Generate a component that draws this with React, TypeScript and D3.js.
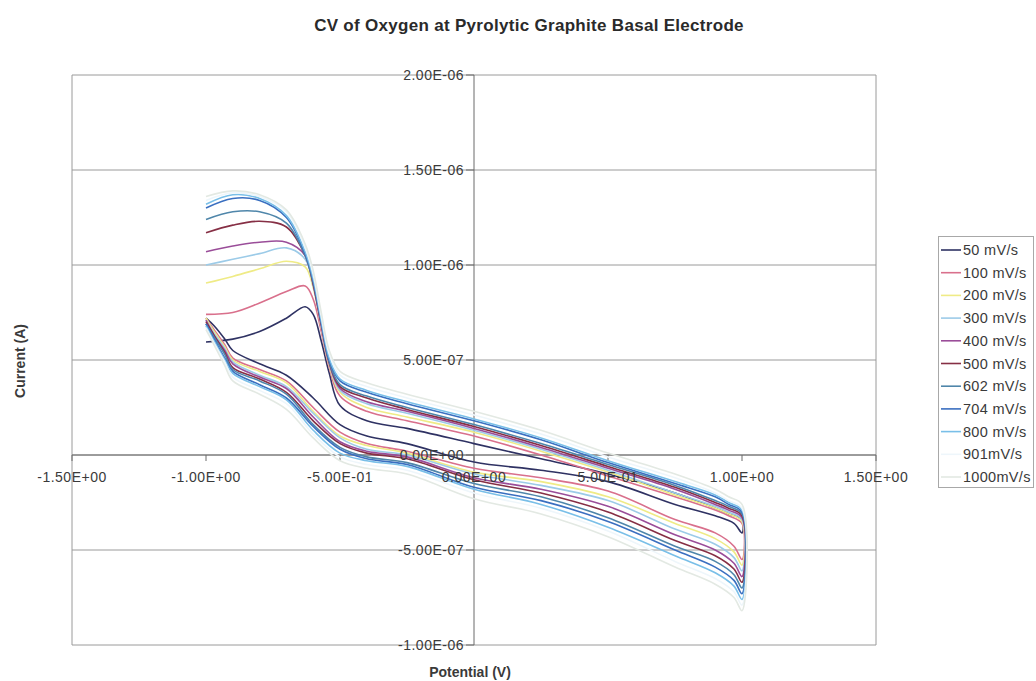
import React from "react";
import * as d3 from "d3";

const WIDTH = 1036;
const HEIGHT = 681;
const FONT = "'Liberation Sans', Arial, Helvetica, sans-serif";

// Current values below are in units of 1e-7 A
const UNIT = 1e-7;

const scanRateLabels = [
  "50 mV/s", "100 mV/s", "200 mV/s", "300 mV/s", "400 mV/s", "500 mV/s",
  "602 mV/s", "704 mV/s", "800 mV/s", "901mV/s", "1000mV/s",
];

const seriesColors = [
  "#2f3263", "#d9708c", "#efeb86", "#9ccbe8", "#9a4d99", "#862f45",
  "#4f86aa", "#3a6fc0", "#79bfe8", "#eef6fb", "#e3e9e3",
];

// Forward sweep from -1.0 V up to +1.0 V
const anodicPotential = [-1.0, -0.97, -0.93, -0.9, -0.8, -0.7, -0.6, -0.5, -0.4, -0.25, 0, 0.25, 0.5, 0.75, 0.9, 0.97, 1.0];
// Reverse sweep from +1.0 V back to -1.0 V
const cathodicPotential = [1.0, 0.95, 0.9, 0.75, 0.5, 0.25, 0, -0.25, -0.4, -0.5, -0.54, -0.57, -0.6, -0.63, -0.7, -0.8, -0.9, -1.0];

const anodic50 = [7.2, 6.8, 6.1, 5.5, 4.8, 4.2, 3.0, 1.6, 1.0, 0.6, -0.37, -0.8, -1.4, -2.6, -3.2, -3.6, -4.1];
const anodic100 = [7.2, 6.6, 5.8, 5.1, 4.5, 3.9, 2.5, 1.2, 0.6, 0.2, -0.7, -1.2, -1.9, -3.4, -4.1, -4.8, -5.5];
const anodic200 = [7.2, 6.5, 5.7, 5.0, 4.4, 3.8, 2.3, 1.0, 0.5, 0.1, -0.9, -1.4, -2.2, -3.6, -4.4, -5.1, -5.8];
const anodic300 = [7.1, 6.4, 5.6, 4.9, 4.2, 3.6, 2.2, 0.9, 0.3, 0.0, -1.0, -1.6, -2.4, -3.9, -4.7, -5.4, -6.1];
const anodic400 = [7.1, 6.3, 5.5, 4.8, 4.1, 3.5, 2.0, 0.7, 0.2, -0.1, -1.2, -1.8, -2.7, -4.2, -5.0, -5.7, -6.4];
const anodic500 = [7.0, 6.3, 5.4, 4.6, 4.0, 3.3, 1.8, 0.6, 0.1, -0.2, -1.3, -2.0, -3.0, -4.5, -5.3, -6.0, -6.7];
const anodic602 = [6.9, 6.2, 5.3, 4.5, 3.9, 3.2, 1.6, 0.4, -0.1, -0.4, -1.5, -2.2, -3.3, -4.8, -5.6, -6.3, -7.0];
const anodic704 = [6.9, 6.1, 5.1, 4.4, 3.7, 3.0, 1.5, 0.3, -0.2, -0.5, -1.7, -2.4, -3.5, -5.0, -5.9, -6.6, -7.3];
const anodic800 = [6.8, 6.0, 5.0, 4.3, 3.6, 2.9, 1.3, 0.1, -0.3, -0.6, -1.8, -2.6, -3.8, -5.3, -6.2, -6.9, -7.6];
const anodic901 = [6.7, 5.9, 4.9, 4.1, 3.4, 2.7, 1.1, -0.1, -0.5, -0.8, -2.0, -2.8, -4.0, -5.6, -6.5, -7.2, -7.9];
const anodic1000 = [6.6, 5.8, 4.7, 3.9, 3.2, 2.4, 0.9, -0.3, -0.7, -1.0, -2.3, -3.1, -4.3, -5.9, -6.8, -7.5, -8.2];

const cathodic50 = [-3.4, -3.1, -2.8, -2.0, -1.0, -0.2, 0.6, 1.4, 1.8, 2.6, 4.3, 6.0, 7.4, 7.8, 7.2, 6.5, 6.1, 5.95];
const cathodic100 = [-3.6, -3.2, -2.9, -2.2, -1.1, 0.0, 1.0, 1.8, 2.3, 3.1, 4.6, 6.5, 8.2, 8.9, 8.6, 8.0, 7.5, 7.4];
const cathodic200 = [-3.5, -3.1, -2.8, -2.1, -0.9, 0.2, 1.2, 2.0, 2.5, 3.3, 4.7, 6.7, 8.8, 9.9, 10.2, 9.8, 9.4, 9.05];
const cathodic300 = [-3.4, -3.0, -2.7, -2.0, -0.8, 0.3, 1.3, 2.2, 2.7, 3.4, 4.8, 6.8, 8.9, 10.3, 10.9, 10.6, 10.3, 10.0];
const cathodic400 = [-3.3, -2.9, -2.6, -1.8, -0.7, 0.4, 1.4, 2.3, 2.8, 3.5, 4.8, 6.8, 9.0, 10.5, 11.2, 11.2, 11.0, 10.7];
const cathodic500 = [-3.2, -2.8, -2.5, -1.7, -0.6, 0.5, 1.5, 2.4, 3.0, 3.6, 4.9, 6.9, 9.0, 10.5, 12.0, 12.3, 12.1, 11.7];
const cathodic602 = [-3.1, -2.7, -2.4, -1.6, -0.5, 0.6, 1.6, 2.5, 3.1, 3.7, 4.9, 7.0, 9.1, 10.5, 12.2, 12.8, 12.8, 12.4];
const cathodic704 = [-3.0, -2.6, -2.2, -1.5, -0.4, 0.8, 1.8, 2.7, 3.3, 3.9, 5.0, 7.0, 9.2, 10.6, 12.5, 13.4, 13.5, 13.0];
const cathodic800 = [-2.9, -2.5, -2.1, -1.4, -0.3, 0.9, 1.9, 2.8, 3.4, 4.0, 5.1, 7.1, 9.3, 10.7, 12.6, 13.5, 13.7, 13.2];
const cathodic901 = [-2.8, -2.4, -2.0, -1.2, -0.1, 1.1, 2.1, 3.0, 3.6, 4.2, 5.3, 7.3, 9.5, 10.9, 12.8, 13.6, 13.8, 13.4];
const cathodic1000 = [-2.6, -2.2, -1.8, -1.0, 0.1, 1.3, 2.3, 3.2, 3.8, 4.4, 5.5, 7.5, 9.7, 11.1, 12.9, 13.7, 13.9, 13.6];

const anodicCurrents = [
  anodic50, anodic100, anodic200, anodic300, anodic400, anodic500,
  anodic602, anodic704, anodic800, anodic901, anodic1000,
];
const cathodicCurrents = [
  cathodic50, cathodic100, cathodic200, cathodic300, cathodic400, cathodic500,
  cathodic602, cathodic704, cathodic800, cathodic901, cathodic1000,
];

const xTickValues = [-1.5, -1.0, -0.5, 0, 0.5, 1.0, 1.5];
const xTickLabels = ["-1.50E+00", "-1.00E+00", "-5.00E-01", "0.00E+00", "5.00E-01", "1.00E+00", "1.50E+00"];
const yTickValues = [2e-6, 1.5e-6, 1e-6, 5e-7, 0, -5e-7, -1e-6];
const yTickLabels = ["2.00E-06", "1.50E-06", "1.00E-06", "5.00E-07", "0.00E+00", "-5.00E-07", "-1.00E-06"];

const PLOT = { left: 72, right: 876, top: 75, bottom: 645 };

export default function App() {
  const x = d3.scaleLinear().domain([-1.5, 1.5]).range([PLOT.left, PLOT.right]);
  const y = d3.scaleLinear().domain([-1e-6, 2e-6]).range([PLOT.bottom, PLOT.top]);

  // One open trace per scan: forward sweep, then the return sweep
  const trace = d3
    .line<[number, number]>()
    .x((d) => x(d[0]))
    .y((d) => y(d[1] * UNIT))
    .curve(d3.curveCatmullRom.alpha(0.5));

  const series = scanRateLabels.map((label, i) => {
    const pts: [number, number][] = [
      ...anodicPotential.map((v, j) => [v, anodicCurrents[i][j]] as [number, number]),
      ...cathodicPotential.map((v, j) => [v, cathodicCurrents[i][j]] as [number, number]),
    ];
    return { label, color: seriesColors[i], d: trace(pts) || "" };
  });

  const x0 = x(0);
  const y0 = y(0);
  const textColor = "#3a3a3a";
  const gridColor = "#9a9a9a";

  const legendTop = 250;
  const legendStep = 22.7;

  return (
    <svg
      width={WIDTH}
      height={HEIGHT}
      style={{ position: "absolute", left: 0, top: 0, background: "#fff" }}
      fontFamily={FONT}
    >
      <rect x={0} y={0} width={WIDTH} height={HEIGHT} fill="#fff" />
      <text x={529} y={31} textAnchor="middle" fontSize={17} fontWeight="bold" fill="#2a2a2a" letterSpacing={0.3}>
        CV of Oxygen at Pyrolytic Graphite Basal Electrode
      </text>

      {/* horizontal gridlines */}
      {yTickValues.map((v) => (
        <line key={"g" + v} x1={PLOT.left} x2={PLOT.right} y1={y(v)} y2={y(v)} stroke={gridColor} strokeWidth={1} />
      ))}
      {/* plot area sides */}
      <line x1={PLOT.left} x2={PLOT.left} y1={PLOT.top} y2={PLOT.bottom} stroke={gridColor} />
      <line x1={PLOT.right} x2={PLOT.right} y1={PLOT.top} y2={PLOT.bottom} stroke={gridColor} />

      {/* axes */}
      <line x1={x0} x2={x0} y1={PLOT.top} y2={PLOT.bottom} stroke="#6a6a6a" strokeWidth={1} />
      <line x1={PLOT.left} x2={PLOT.right} y1={y0} y2={y0} stroke="#6a6a6a" strokeWidth={1} />
      {yTickValues.map((v) => (
        <line key={"yt" + v} x1={x0 - 8} x2={x0} y1={y(v)} y2={y(v)} stroke="#6a6a6a" />
      ))}
      {xTickValues.map((v) => (
        <line key={"xt" + v} x1={x(v)} x2={x(v)} y1={y0} y2={y0 + 6} stroke="#6a6a6a" />
      ))}

      {/* voltammograms */}
      <g fill="none" strokeWidth={1.6} strokeLinejoin="round">
        {series.map((s) => (
          <path key={s.label} d={s.d} stroke={s.color} />
        ))}
      </g>

      {/* tick labels */}
      <g fontSize={14} fill={textColor} letterSpacing={0.5}>
        {yTickValues.map((v, i) => (
          <text key={"yl" + v} x={x0 - 10} y={y(v) + 5} textAnchor="end">
            {yTickLabels[i]}
          </text>
        ))}
        {xTickValues.map((v, i) => (
          <text key={"xl" + v} x={x(v)} y={y0 + 27} textAnchor="middle">
            {xTickLabels[i]}
          </text>
        ))}
      </g>

      {/* axis titles */}
      <text x={470} y={677} textAnchor="middle" fontSize={14} fontWeight="bold" fill={textColor}>
        Potential (V)
      </text>
      <text
        transform={`translate(25, 361) rotate(-90)`}
        textAnchor="middle"
        fontSize={14}
        fontWeight="bold"
        fill={textColor}
      >
        Current (A)
      </text>

      {/* legend */}
      <rect x={938.5} y={236.5} width={95} height={251} fill="#fff" stroke="#a8a8a8" />
      {series.map((s, i) => {
        const cy = legendTop + i * legendStep;
        return (
          <g key={"lg" + s.label}>
            <line x1={941} x2={961} y1={cy} y2={cy} stroke={s.color} strokeWidth={1.6} />
            <text x={963} y={cy + 5} fontSize={14.5} fill={textColor} letterSpacing={0.3}>
              {s.label}
            </text>
          </g>
        );
      })}
    </svg>
  );
}
